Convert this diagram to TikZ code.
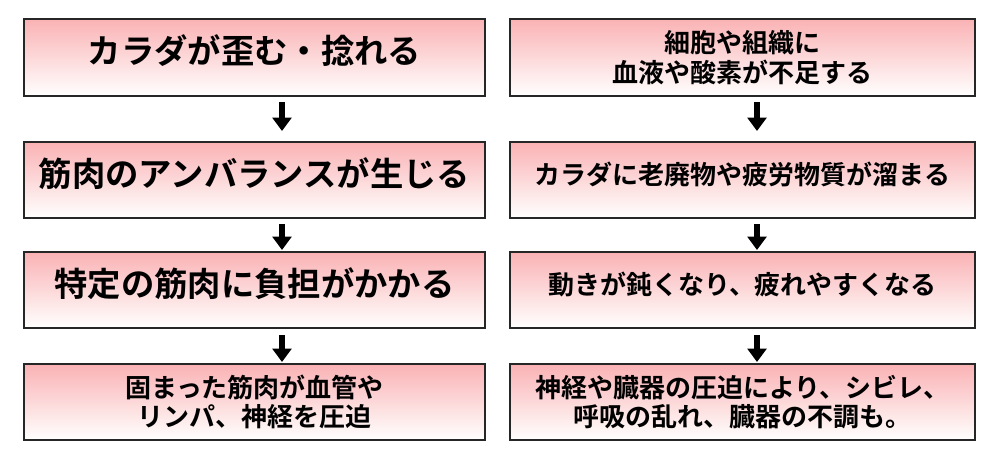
\documentclass[tikz,border=0pt]{standalone}
\usepackage{fontspec}
\setmainfont{Noto Sans CJK JP}[BoldFont={Noto Sans CJK JP Bold}]
\usetikzlibrary{arrows.meta}
\definecolor{pk}{RGB}{250,178,180}
\begin{document}
\begin{tikzpicture}[x=0.75pt,y=-0.75pt,
 bx/.style={top color=pk,bottom color=white,shading angle=0},
 tx/.style={align=center,font=\bfseries,inner sep=0pt},
 big/.style={font=\bfseries\fontsize{25}{30}\selectfont,yshift=5pt},
 sm/.style={font=\bfseries\fontsize{19.5}{22}\selectfont},
 up/.style={yshift=4pt},
 arr/.style={line width=3.8pt,-{Triangle[length=10pt,width=14pt]}}]
\useasboundingbox (0,0) rectangle (1000,457);
\foreach \t/\b [count=\i] in {19/96,142/218,252/328,364/440}{
  \path[bx] (24,\t) rectangle (485,\b);
  \path[bx] (510,\t) rectangle (975,\b);
  \node[coordinate] (L\i) at (254.5,{(\t+\b)/2}) {};
  \node[coordinate] (R\i) at (742.5,{(\t+\b)/2}) {};
}
\draw[draw=black!85,line width=0.9pt] (24,19) rectangle (485,96) (510,19) rectangle (975,96)
 (24,142) rectangle (485,218) (510,142) rectangle (975,218)
 (24,252) rectangle (485,328) (510,252) rectangle (975,328)
 (24,364) rectangle (485,440) (510,364) rectangle (975,440);
\node[tx,big] (l1) at (L1) {カラダが歪む・捻れる};
\node[tx,big] (l2) at (L2) {筋肉のアンバランスが生じる};
\node[tx,big] (l3) at (L3) {特定の筋肉に負担がかかる};
\node[tx,sm] (l4) at (L4) {固まった筋肉が血管や\\リンパ、神経を圧迫};
\node[tx,sm] (r1) at (R1) {細胞や組織に\\血液や酸素が不足する};
\node[tx,sm,up] (r2) at (R2) {カラダに老廃物や疲労物質が溜まる};
\node[tx,sm,up] (r3) at (R3) {動きが鈍くなり、疲れやすくなる};
\node[tx,sm] (r4) at (R4) {神経や臓器の圧迫により、シビレ、\\呼吸の乱れ、臓器の不調も。};
\foreach \x in {282,757}{
 \coordinate (a1) at (\x,102); \coordinate (b1) at (\x,131);
 \coordinate (a2) at (\x,224); \coordinate (b2) at (\x,250);
 \coordinate (a3) at (\x,335); \coordinate (b3) at (\x,362);
 \draw[arr] (a1) -- (b1); \draw[arr] (a2) -- (b2); \draw[arr] (a3) -- (b3);
}
\end{tikzpicture}
\end{document}
